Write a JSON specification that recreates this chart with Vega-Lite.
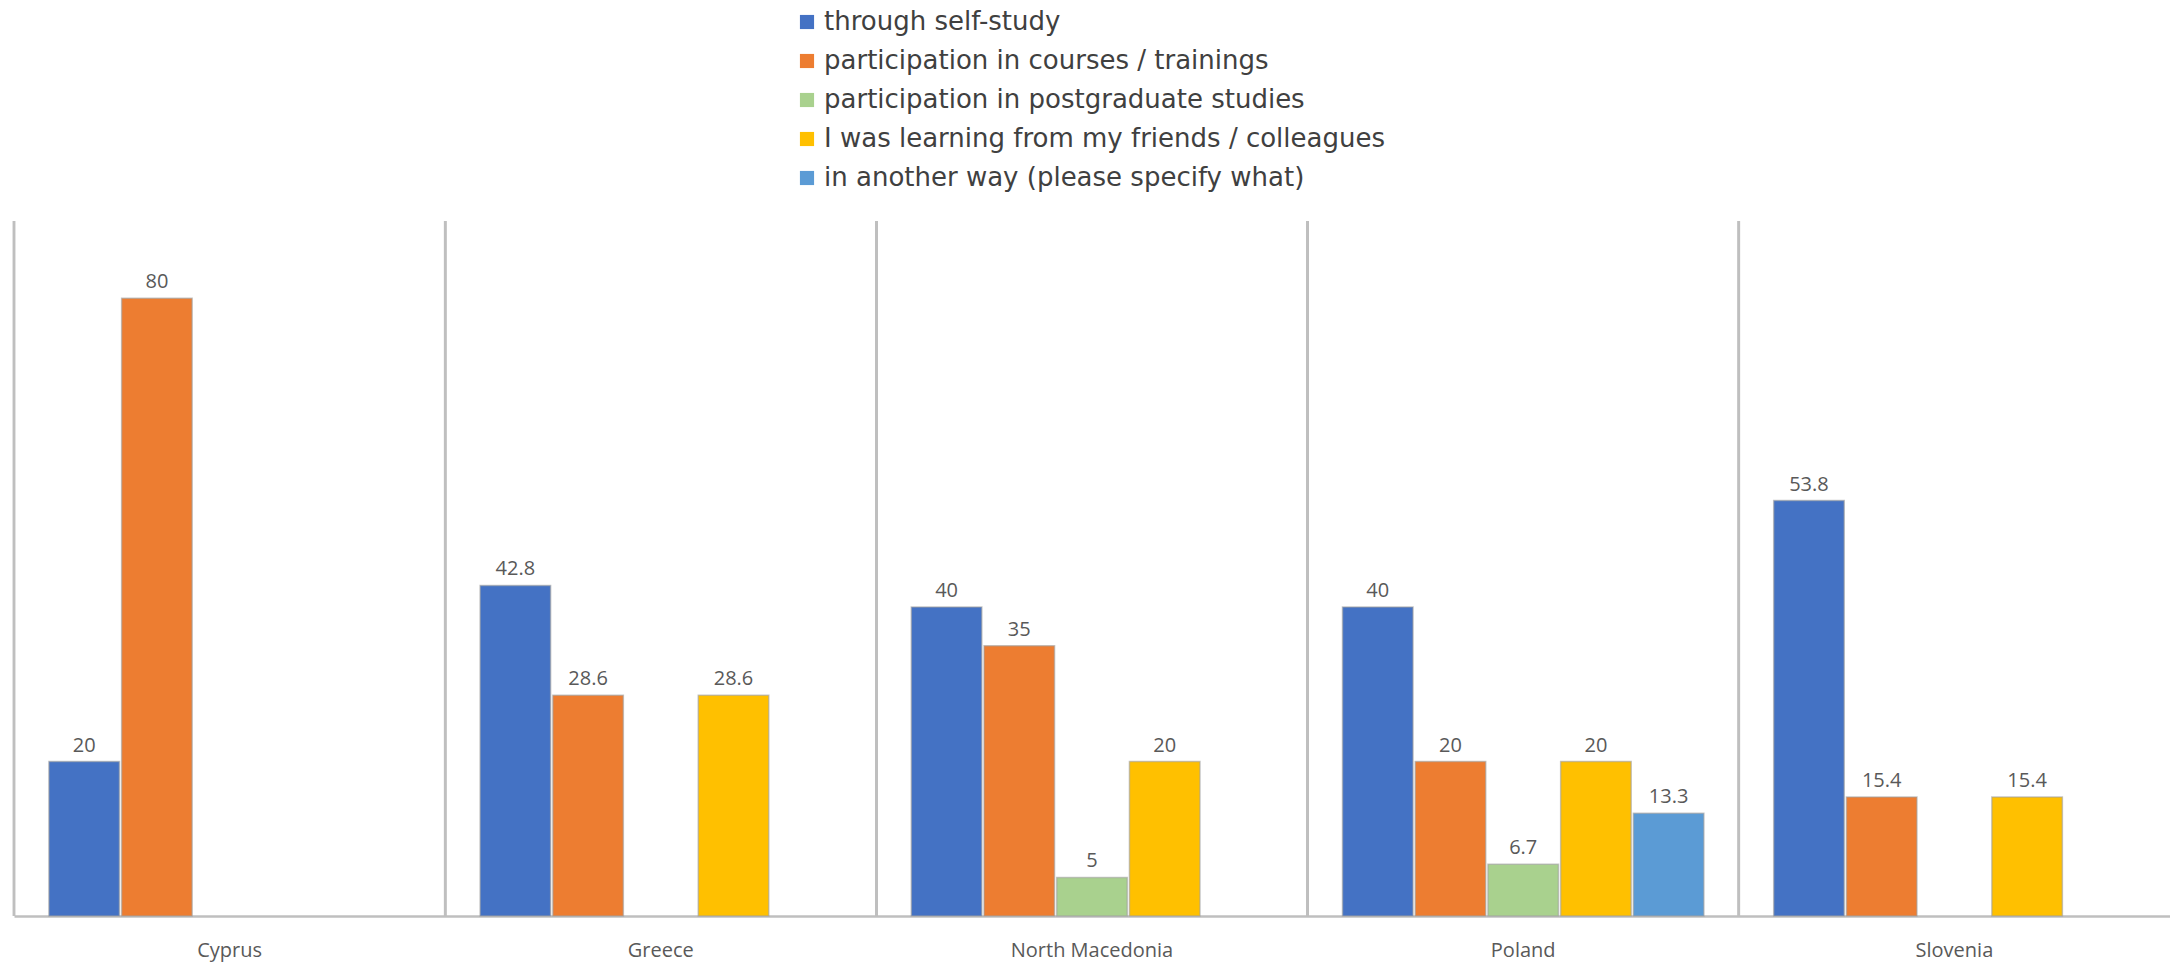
{
  "$schema": "https://vega.github.io/schema/vega-lite/v6.json",
  "autosize": "none",
  "width": 2156,
  "height": 695,
  "padding": {"left": 14, "top": 221, "right": 0, "bottom": 48},
  "background": "white",
  "config": {
    "view": {"stroke": null},
    "font": "Open Sans",
    "text": {"font": "Open Sans"}
  },
  "data": {
    "values": [
      {"country": "Cyprus", "series": "through self-study", "value": 20},
      {"country": "Cyprus", "series": "participation in courses / trainings", "value": 80},
      {"country": "Greece", "series": "through self-study", "value": 42.8},
      {"country": "Greece", "series": "participation in courses / trainings", "value": 28.6},
      {"country": "Greece", "series": "I was learning from my friends / colleagues", "value": 28.6},
      {"country": "North Macedonia", "series": "through self-study", "value": 40},
      {"country": "North Macedonia", "series": "participation in courses / trainings", "value": 35},
      {"country": "North Macedonia", "series": "participation in postgraduate studies", "value": 5},
      {"country": "North Macedonia", "series": "I was learning from my friends / colleagues", "value": 20},
      {"country": "Poland", "series": "through self-study", "value": 40},
      {"country": "Poland", "series": "participation in courses / trainings", "value": 20},
      {"country": "Poland", "series": "participation in postgraduate studies", "value": 6.7},
      {"country": "Poland", "series": "I was learning from my friends / colleagues", "value": 20},
      {"country": "Poland", "series": "in another way (please specify what)", "value": 13.3},
      {"country": "Slovenia", "series": "through self-study", "value": 53.8},
      {"country": "Slovenia", "series": "participation in courses / trainings", "value": 15.4},
      {"country": "Slovenia", "series": "I was learning from my friends / colleagues", "value": 15.4}
    ]
  },
  "encoding": {
    "x": {
      "field": "country",
      "type": "nominal",
      "sort": ["Cyprus", "Greece", "North Macedonia", "Poland", "Slovenia"],
      "scale": {"paddingInner": 0, "paddingOuter": 0},
      "axis": {
        "title": null,
        "labelAngle": 0,
        "labelFont": "Open Sans",
        "labelFontSize": 20,
        "labelColor": "#595959",
        "labelPadding": 24,
        "ticks": false,
        "domainColor": "#BFBFBF",
        "domainWidth": 2.5,
        "grid": false
      }
    }
  },
  "layer": [
    {
      "mark": {"type": "rule", "color": "#BFBFBF", "strokeWidth": 2.5},
      "encoding": {
        "x": {
          "field": "country",
          "type": "nominal",
          "bandPosition": 0,
          "sort": ["Cyprus", "Greece", "North Macedonia", "Poland", "Slovenia"]
        }
      }
    },
    {
      "mark": {"type": "bar", "stroke": "#A0A0A0", "strokeOpacity": 0.6, "strokeWidth": 1.5},
      "encoding": {
        "xOffset": {
          "field": "series",
          "type": "nominal",
          "sort": ["through self-study", "participation in courses / trainings", "participation in postgraduate studies", "I was learning from my friends / colleagues", "in another way (please specify what)"],
          "scale": {
            "domain": ["through self-study", "participation in courses / trainings", "participation in postgraduate studies", "I was learning from my friends / colleagues", "in another way (please specify what)"],
            "paddingInner": 0.03,
            "paddingOuter": 0.48
          }
        },
        "y": {
          "field": "value",
          "type": "quantitative",
          "scale": {"domain": [0, 90]},
          "axis": null
        },
        "color": {
          "field": "series",
          "type": "nominal",
          "scale": {
            "domain": ["through self-study", "participation in courses / trainings", "participation in postgraduate studies", "I was learning from my friends / colleagues", "in another way (please specify what)"],
            "range": ["#4472C4", "#ED7D31", "#A9D18E", "#FFC000", "#5B9BD5"]
          },
          "legend": {
            "title": null,
            "orient": "none",
            "legendX": 780,
            "legendY": -212,
            "direction": "vertical",
            "symbolType": "square",
            "symbolSize": 200,
            "symbolStrokeWidth": 0,
            "labelFont": "DejaVu Sans",
            "labelFontSize": 26,
            "labelColor": "#404040",
            "labelLimit": 0,
            "labelOffset": 4,
            "rowPadding": 13
          }
        }
      }
    },
    {
      "mark": {"type": "text", "baseline": "alphabetic", "dy": -10, "fontSize": 20, "color": "#595959", "font": "Open Sans"},
      "encoding": {
        "xOffset": {
          "field": "series",
          "type": "nominal",
          "scale": {
            "domain": ["through self-study", "participation in courses / trainings", "participation in postgraduate studies", "I was learning from my friends / colleagues", "in another way (please specify what)"],
            "paddingInner": 0.03,
            "paddingOuter": 0.48
          }
        },
        "y": {"field": "value", "type": "quantitative"},
        "text": {"field": "value", "type": "quantitative"}
      }
    }
  ]
}
